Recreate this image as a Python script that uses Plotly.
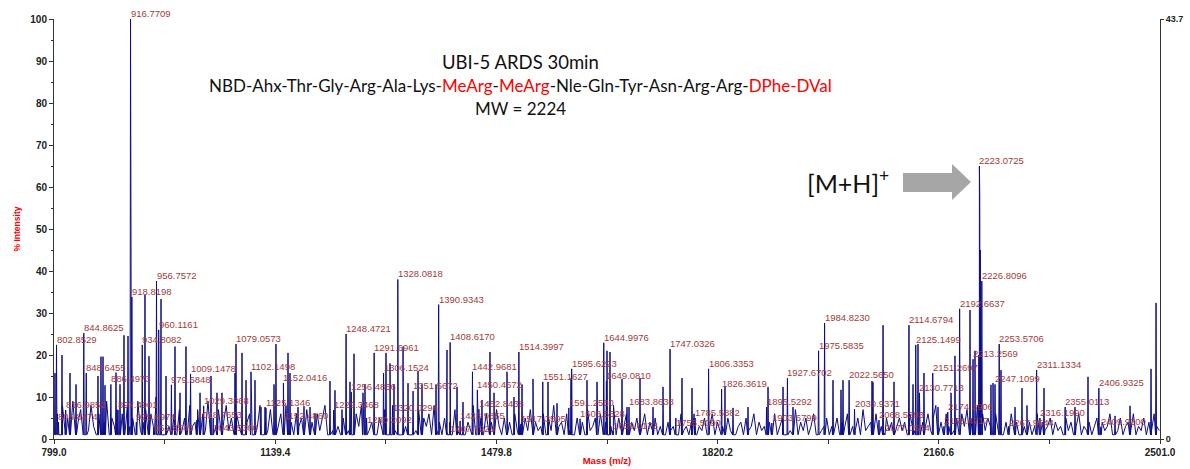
import plotly.graph_objects as go

# ---------------- data ----------------
labeled_mz = [802.8529, 805.8474, 816.9852, 844.8625, 848.6455, 886.4973, 897.4901, 916.7709,
              918.8198, 925.6974, 934.8082, 952.8549, 956.7572, 960.1161, 979.6848, 1009.1478,
              1018.7653, 1029.3368, 1043.5360, 1079.0573, 1102.1498, 1125.1346, 1152.0416, 1152.4860,
              1229.3468, 1248.4721, 1256.4856, 1280.2092, 1291.6961, 1306.1524, 1320.0294, 1328.0818,
              1351.5672, 1390.9343, 1407.7223, 1408.6170, 1423.9855, 1442.9681, 1450.4672, 1452.8438,
              1514.3997, 1517.3595, 1551.1627, 1591.2530, 1595.6223, 1608.5528, 1644.9976, 1649.0810,
              1659.0173, 1683.8638, 1747.0326, 1755.5090, 1785.5882, 1806.3353, 1826.3619, 1895.5292,
              1903.6799, 1927.6702, 1975.5835, 1984.8230, 2022.5650, 2030.9371, 2068.5293, 2077.0504,
              2114.6794, 2125.1499, 2130.7713, 2151.2697, 2168.4717, 2174.3906, 2192.6637, 2213.2569,
              2223.0725, 2226.8096, 2247.1099, 2253.5706, 2267.9544, 2311.1334, 2316.1990, 2355.0113,
              2406.9325, 2409.9300]
labeled_int = [22.4, 4.0, 6.9, 25.2, 15.7, 13.0, 6.9, 100.0,
               33.8, 4.0, 22.4, 1.4, 37.6, 26.0, 12.9, 15.5,
               4.5, 7.9, 1.4, 22.6, 16.0, 7.4, 13.3, 4.3,
               6.9, 25.0, 11.2, 3.3, 20.5, 15.7, 6.2, 38.0,
               11.4, 32.0, 1.2, 23.0, 4.3, 16.0, 11.7, 7.1,
               20.7, 3.6, 13.6, 7.4, 16.7, 4.8, 22.9, 13.8,
               2.0, 7.6, 21.4, 2.6, 5.0, 16.7, 11.9, 7.6,
               3.8, 14.5, 21.0, 27.6, 14.0, 7.1, 4.5, 1.4,
               27.1, 22.4, 11.0, 15.7, 3.0, 6.4, 31.0, 19.0,
               65.0, 37.6, 13.0, 22.6, 2.6, 16.4, 5.0, 7.6,
               12.1, 2.9]

other_mz = [800.5, 811.3, 823.6, 832.9, 866.7, 871.3, 874.4, 877.5, 894.4, 900.6, 906.7, 912.9,
            939.0, 945.2, 963.7, 971.4, 985.2, 992.9, 1002.1, 1023.7, 1040.6, 1049.8, 1057.5,
            1077.5, 1088.3, 1094.5, 1108.3, 1117.5, 1123.7, 1137.6, 1140.6, 1159.1, 1162.2,
            1174.5, 1183.7, 1193.0, 1200.6, 1223.7, 1231.4, 1242.2, 1254.5, 1260.7, 1274.5,
            1277.6, 1309.9, 1316.1, 1322.2, 1336.1, 1343.8, 1359.2, 1365.3, 1386.9, 1403.8,
            1419.2, 1428.4, 1457.6, 1469.9, 1476.1, 1496.1, 1506.9, 1519.2, 1536.1, 1559.2,
            1573.1, 1594.6, 1619.2, 1634.6, 1650.0, 1654.6, 1673.1, 1680.8, 1700.8, 1720.8,
            1736.2, 1765.4, 1780.8, 1831.6, 1843.9, 1867.0, 1897.8, 1920.9, 1936.2, 1997.8,
            2010.1, 2013.2, 2057.8, 2059.3, 2074.8, 2091.7, 2120.9, 2128.6, 2137.8, 2159.4,
            2179.4, 2185.5, 2208.6, 2216.3, 2222.3, 2223.6, 2224.4, 2240.9, 2244.0, 2256.3,
            2277.9, 2288.6, 2296.3, 2322.5, 2370.2, 2390.2, 2431.8, 2454.9, 2487.2, 2494.9]
other_int = [15.7, 20.0, 15.7, 13.0, 15.0, 19.6, 19.6, 12.8, 15.8, 13.0, 24.7, 24.5,
             34.3, 19.7, 33.3, 15.0, 22.0, 11.0, 22.0, 11.0, 15.0, 11.0, 11.0,
             15.7, 20.5, 14.0, 14.0, 7.6, 7.6, 13.0, 22.6, 20.5, 15.7,
             7.6, 7.8, 7.6, 6.0, 13.8, 11.6, 7.0, 13.6, 20.3, 11.0,
             13.0, 20.5, 18.0, 13.0, 22.0, 13.3, 16.2, 13.0, 13.0, 21.2,
             12.4, 8.8, 9.3, 20.7, 11.0, 16.0, 10.0, 13.0, 14.3, 13.6,
             8.5, 14.5, 14.0, 13.6, 21.0, 20.7, 14.3, 7.6, 14.5, 7.6,
             12.4, 14.5, 12.1, 12.4, 7.4, 7.6, 12.4, 12.4, 7.6, 14.0,
             11.7, 14.0, 13.8, 13.5, 27.1, 13.6, 13.0, 22.6, 15.7, 7.6,
             11.0, 19.8, 30.7, 21.0, 20.0, 58.0, 45.0, 12.9, 13.3, 16.4,
             7.6, 12.1, 8.0, 12.1, 7.6, 14.8, 5.5, 7.9, 16.7, 32.4]

noise_start = 800
noise_step = 4
noise_int = [
    3, 6, 1, 8, 2, 5, 1, 9, 3, 4, 7, 1, 5, 2, 8, 3, 1, 6, 2, 4, 9, 1, 5, 3, 7,    # 800-896
    2, 6, 1, 8, 3, 5, 1, 9, 2, 4, 7, 1, 6, 3, 10, 2, 5, 1, 8, 3, 4, 6, 1, 7, 2,   # 900-996
    5, 1, 8, 3, 4, 7, 1, 6, 2, 9, 1, 5, 3, 7, 1, 4, 8, 2, 5, 1, 6, 3, 9, 1, 4,    # 1000-1096
    6, 1, 5, 3, 8, 1, 4, 2, 7, 1, 5, 3, 6, 1, 8, 2, 4, 1, 6, 3, 5, 1, 7, 2, 4,    # 1100-1196
    1, 6, 2, 5, 8, 1, 4, 2, 7, 3, 1, 5, 9, 2, 4, 1, 6, 3, 8, 1, 5, 2, 4, 7, 1,    # 1200-1296
    5, 2, 7, 1, 4, 8, 2, 5, 1, 6, 3, 9, 1, 4, 2, 7, 1, 5, 3, 6, 1, 8, 2, 4, 1,    # 1300-1396
    5, 2, 4, 1, 7, 2, 3, 6, 1, 4, 2, 8, 1, 3, 5, 1, 6, 2, 4, 1, 7, 3, 1, 5, 2,    # 1400-1496
    4, 1, 6, 2, 3, 1, 5, 2, 7, 1, 4, 2, 3, 6, 1, 5, 2, 8, 1, 3, 4, 1, 6, 2, 3,    # 1500-1596
    1, 5, 2, 4, 1, 7, 2, 3, 5, 1, 6, 2, 4, 1, 3, 8, 1, 5, 2, 3, 6, 1, 4, 2, 5,    # 1600-1696
    1, 3, 6, 1, 4, 2, 5, 1, 3, 7, 1, 4, 2, 3, 5, 1, 6, 2, 3, 1, 4, 6, 1, 3, 2,    # 1700-1796
    5, 1, 3, 6, 1, 4, 2, 3, 1, 5, 2, 7, 1, 3, 4, 1, 5, 2, 3, 6, 1, 4, 2, 3, 1,    # 1800-1896
    4, 2, 6, 1, 3, 5, 1, 4, 2, 3, 7, 1, 4, 2, 5, 1, 3, 6, 1, 4, 2, 3, 5, 1, 3,    # 1900-1996
    2, 5, 1, 4, 3, 6, 1, 3, 2, 5, 1, 7, 2, 3, 4, 1, 6, 2, 3, 1, 5, 2, 4, 1, 3,    # 2000-2096
    5, 2, 4, 1, 6, 3, 2, 7, 1, 4, 3, 6, 2, 5, 8, 3, 4, 2, 6, 3, 7, 2, 5, 4, 6,    # 2100-2196
    3, 7, 2, 5, 4, 8, 3, 6, 2, 5, 3, 4, 6, 2, 5, 1, 4, 3, 6, 2, 4, 1, 5, 3, 2,    # 2200-2296
    4, 1, 3, 6, 1, 4, 2, 3, 5, 1, 4, 2, 3, 1, 5, 2, 4, 1, 3, 6, 1, 3, 2, 4, 1,    # 2300-2396
    3, 5, 1, 4, 2, 3, 6, 1, 4, 2, 5, 1, 3, 4, 2, 6, 1, 3, 2, 5, 1, 4, 2, 6, 3,    # 2400-2496
    2]

x_ticks = [799.0, 1139.4, 1479.8, 1820.2, 2160.6, 2501.0]
y_ticks = [0, 10, 20, 30, 40, 50, 60, 70, 80, 90, 100]
y2_ticks = [0, 43.7]

# ---------------- build profile line ----------------
pts = [(noise_start + i * noise_step, v) for i, v in enumerate(noise_int)]
for m, h in zip(labeled_mz + other_mz, labeled_int + other_int):
    pts += [(m - 0.7, 1.0), (m, h), (m + 0.7, 1.0)]
pts.sort()
xs = [p[0] for p in pts]
ys = [p[1] for p in pts]

fig = go.Figure()
fig.add_trace(go.Scatter(x=xs, y=ys, mode="lines",
                         line=dict(color="#0c0c88", width=1), hoverinfo="skip"))
fig.add_trace(go.Scatter(x=[x_ticks[0]], y=[0], yaxis="y2", mode="markers",
                         marker=dict(opacity=0), hoverinfo="skip"))

AX = "#333333"
tickfont = dict(family="Liberation Sans, Arial", size=10, color="#222222")
minor_x = [(a + b) / 2 for a, b in zip(x_ticks[:-1], x_ticks[1:])]

fig.update_layout(
    width=1190, height=469,
    margin=dict(l=54, r=30, t=19, b=30),
    plot_bgcolor="white", paper_bgcolor="white",
    showlegend=False,
    xaxis=dict(range=[799, 2501], tickmode="array", tickvals=x_ticks,
               ticktext=[f"<b>{v:.1f}</b>" for v in x_ticks], automargin=False,
               ticks="outside", ticklen=4, tickcolor=AX, showline=True, linecolor=AX,
               showgrid=False, zeroline=False, tickfont=tickfont,
               minor=dict(tickvals=minor_x, ticks="outside", ticklen=4, tickcolor=AX),
               title=dict(text="<b>Mass (m/z)</b>", standoff=0,
                          font=dict(family="Liberation Sans, Arial", size=9.5, color="#ff0000"))),
    yaxis=dict(range=[0, 100], tickmode="array", tickvals=y_ticks,
               ticktext=[f"<b>{v}</b>" for v in y_ticks], automargin=False,
               ticks="outside", ticklen=4, tickcolor=AX, showline=True, linecolor=AX,
               showgrid=False, zeroline=False, tickfont=tickfont,
               minor=dict(dtick=5, tick0=0, ticks="outside", ticklen=2, tickcolor=AX),
               title=dict(text="<b>% Intensity</b>", standoff=8,
                          font=dict(family="Liberation Sans, Arial", size=8.5, color="#ff0000"))),
    yaxis2=dict(range=[0, 43.7], overlaying="y", side="right", anchor="x", automargin=False,
                tickmode="array", tickvals=y2_ticks,
                ticktext=[f"<b>{v:g}</b>" for v in y2_ticks],
                ticks="outside", ticklen=3, tickcolor=AX, showline=True, linecolor=AX,
                showgrid=False, zeroline=False,
                tickfont=dict(family="Liberation Sans, Arial", size=9, color="#222222")),
)

# peak labels
for m, h in zip(labeled_mz, labeled_int):
    fig.add_annotation(x=m, y=h, xref="x", yref="y", text=f"{m:.4f}", showarrow=False,
                       xanchor="left", yanchor="bottom", xshift=-2, yshift=-2,
                       font=dict(family="Liberation Sans, Arial", size=9.5, color="#a33a3a"))

# title block
red = '<span style="color:#ff0000">'
lines = [
    (62, 18.5, "UBI-5 ARDS 30min"),
    (85, 17, "NBD-Ahx-Thr-Gly-Arg-Ala-Lys-" + red + "MeArg</span>-" + red + "MeArg</span>"
             "-Nle-Gln-Tyr-Asn-Arg-Arg-" + red + "DPhe-DVal</span>"),
    (108, 17, "MW = 2224"),
]
for py, fs, txt in lines:
    fig.add_annotation(x=(520 - 54) / 1106, y=(439 - py) / 420, xref="paper", yref="paper",
                       text=txt, showarrow=False, xanchor="center", yanchor="middle",
                       font=dict(family="Lato, Open Sans, sans-serif", size=fs, color="#111111"))

fig.add_annotation(x=(848 - 54) / 1106, y=(439 - 182) / 420, xref="paper", yref="paper",
                   text="[M+H]<sup>+</sup>", showarrow=False, xanchor="center", yanchor="middle",
                   font=dict(family="Lato, Open Sans, sans-serif", size=25, color="#111111"))

# grey block arrow pointing at [M+H]+
def px2x(px):
    return (px - 54) / 1106
def py2y(py):
    return (439 - py) / 420
arrow = [(903, 173), (952, 173), (952, 164), (971, 182), (952, 200), (952, 192), (903, 192)]
path = "M " + " L ".join(f"{px2x(a):.5f},{py2y(b):.5f}" for a, b in arrow) + " Z"
fig.add_shape(type="path", path=path, xref="paper", yref="paper",
              fillcolor="#a6a6a6", line=dict(color="#a6a6a6", width=0))

fig.write_html("out.html")
